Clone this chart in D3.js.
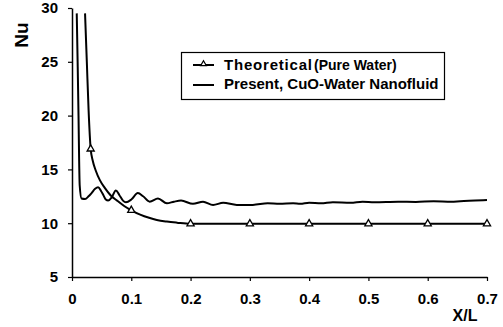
<!DOCTYPE html>
<html>
<head>
<meta charset="utf-8">
<script src="https://cdn.jsdelivr.net/npm/d3@7"></script>
<style>
  body { margin: 0; background: #fff; }
  svg { display: block; font-family: "Liberation Sans", Arial, sans-serif; font-weight: bold; }
</style>
</head>
<body>
<svg width="503" height="327"></svg>
<script>
// Theoretical (pure water) curve
const theoX = [0.022, 0.025, 0.028, 0.0315, 0.035, 0.04, 0.047, 0.055, 0.065, 0.076, 0.088, 0.1, 0.115, 0.13, 0.143, 0.16, 0.177, 0.2, 0.3, 0.4, 0.5, 0.6, 0.7];
const theoY = [29.5, 25, 20.5, 16.9, 15.8, 14.9, 14.0, 13.3, 12.6, 12.1, 11.6, 11.2, 10.8, 10.5, 10.3, 10.15, 10.05, 9.95, 9.95, 9.95, 9.95, 9.95, 9.95];
const markerX = [0.0315, 0.1, 0.2, 0.3, 0.4, 0.5, 0.6, 0.7];
const markerY = [16.9, 11.2, 9.95, 9.95, 9.95, 9.95, 9.95, 9.95];

// Present, CuO-water nanofluid curve
const presX = [0.008, 0.0095, 0.011, 0.012, 0.013, 0.016, 0.022, 0.028, 0.033, 0.039, 0.044, 0.049, 0.053, 0.057, 0.061, 0.067, 0.074, 0.08, 0.086, 0.091, 0.1, 0.111, 0.12, 0.131, 0.145, 0.16, 0.172, 0.184, 0.204, 0.221, 0.238, 0.255, 0.278, 0.305, 0.33, 0.35, 0.373, 0.385, 0.4, 0.42, 0.44, 0.47, 0.49, 0.51, 0.55, 0.58, 0.61, 0.64, 0.655, 0.68, 0.7];
const presY = [29.5, 25, 20, 16, 13.5, 12.3, 12.25, 12.5, 12.8, 13.2, 13.35, 13.0, 12.6, 12.2, 12.1, 12.4, 13.05, 12.6, 12.1, 11.95, 12.2, 12.8, 12.5, 12.0, 12.3, 11.85, 12.0, 12.1, 11.8, 12.0, 11.7, 11.9, 11.7, 11.7, 11.85, 11.8, 11.85, 11.8, 11.9, 11.85, 11.95, 11.9, 12.0, 11.95, 12.0, 11.98, 12.05, 12.0, 12.05, 12.1, 12.15];

const xTicks = [0, 0.1, 0.2, 0.3, 0.4, 0.5, 0.6, 0.7];
const yTicks = [5, 10, 15, 20, 25, 30];

const svg = d3.select("svg");

const x = d3.scaleLinear().domain([0, 0.7]).range([72, 487]);
const y = d3.scaleLinear().domain([5, 30]).range([277, 8]);

const xAxisG = svg.append("g")
    .attr("transform", "translate(0,277)")
    .call(d3.axisBottom(x).tickValues(xTicks).tickSize(4).tickSizeOuter(0).tickPadding(12)
        .tickFormat(d => d === 0 ? "0" : d3.format(".1f")(d)));

const yAxisG = svg.append("g")
    .attr("transform", "translate(72,0)")
    .call(d3.axisLeft(y).tickValues(yTicks).tickSize(4).tickSizeOuter(0).tickPadding(10));

[xAxisG, yAxisG].forEach(g => {
    g.select(".domain").attr("stroke", "#000").attr("stroke-width", 1.5);
    g.selectAll(".tick line").attr("stroke", "#000").attr("stroke-width", 1.2);
    g.selectAll(".tick text")
        .attr("fill", "#000")
        .style("font-size", "15px")
        .style("font-weight", "bold")
        .style("font-family", "'Liberation Sans', Arial, sans-serif");
});

svg.append("text")
    .attr("transform", "translate(28,35) rotate(-90)")
    .attr("text-anchor", "middle")
    .style("font-size", "19px")
    .text("Nu");

svg.append("text")
    .attr("x", 465)
    .attr("y", 321)
    .attr("text-anchor", "middle")
    .style("font-size", "16px")
    .text("X/L");

const line = d3.line()
    .x(d => x(d[0]))
    .y(d => y(d[1]))
    .curve(d3.curveMonotoneX);

const theo = theoX.map((v, i) => [v, theoY[i]]);
const pres = presX.map((v, i) => [v, presY[i]]);

svg.append("path")
    .datum(pres)
    .attr("fill", "none")
    .attr("stroke", "#000")
    .attr("stroke-width", 2)
    .attr("d", line);

svg.append("path")
    .datum(theo)
    .attr("fill", "none")
    .attr("stroke", "#000")
    .attr("stroke-width", 2)
    .attr("d", line);

const tri = d3.symbol().type(d3.symbolTriangle).size(22);

svg.selectAll(".marker")
    .data(markerX.map((v, i) => [v, markerY[i]]))
    .enter().append("path")
    .attr("class", "marker")
    .attr("transform", d => `translate(${x(d[0])},${y(d[1])})`)
    .attr("d", tri)
    .attr("fill", "#fff")
    .attr("stroke", "#000")
    .attr("stroke-width", 1.3);

// legend
const legend = svg.append("g");
legend.append("rect")
    .attr("x", 181.5).attr("y", 52.5)
    .attr("width", 263).attr("height", 47)
    .attr("fill", "#fff")
    .attr("stroke", "#000")
    .attr("stroke-width", 1.2);

legend.append("line")
    .attr("x1", 193).attr("x2", 214).attr("y1", 65).attr("y2", 65)
    .attr("stroke", "#000").attr("stroke-width", 2);
legend.append("path")
    .attr("transform", "translate(203.5,64)")
    .attr("d", d3.symbol().type(d3.symbolTriangle).size(14))
    .attr("fill", "#fff").attr("stroke", "#000").attr("stroke-width", 1.2);
legend.append("line")
    .attr("x1", 193).attr("x2", 214).attr("y1", 85).attr("y2", 85)
    .attr("stroke", "#000").attr("stroke-width", 2);

const t1 = legend.append("text")
    .attr("x", 224).attr("y", 70);
t1.append("tspan")
    .style("font-size", "15px")
    .style("letter-spacing", "0.8px")
    .text("Theoretical");
t1.append("tspan")
    .attr("x", 314)
    .style("font-size", "14px")
    .text("(Pure Water)");

legend.append("text")
    .attr("x", 224).attr("y", 89)
    .style("font-size", "15px")
    .text("Present, CuO-Water Nanofluid");
</script>
</body>
</html>
